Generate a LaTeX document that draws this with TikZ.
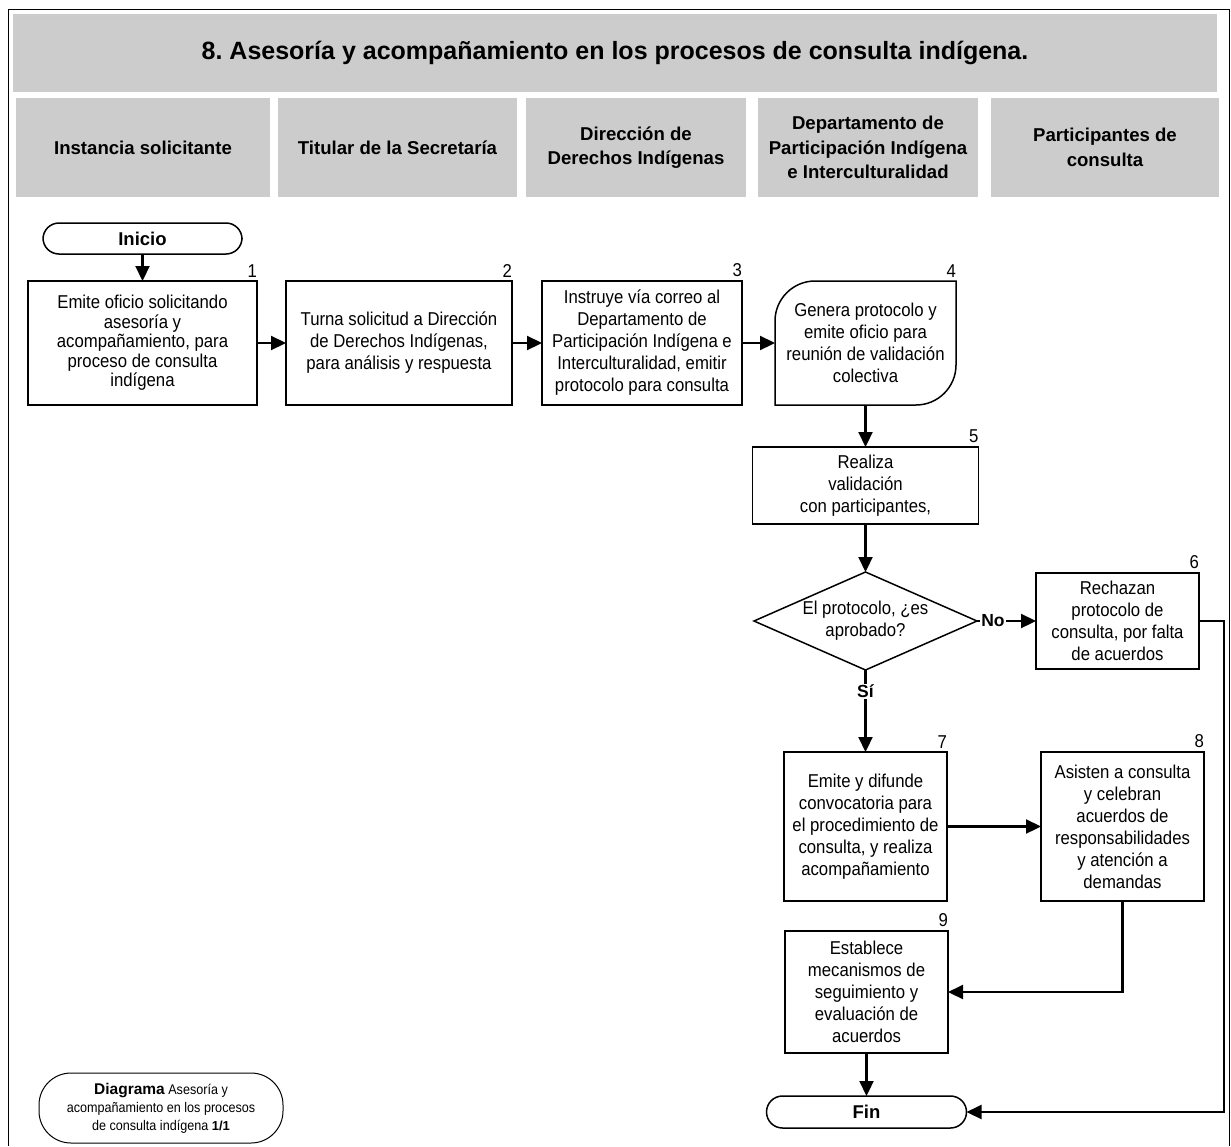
\documentclass[tikz,border=0pt]{standalone}
\usepackage{fontspec}
\setmainfont{Liberation Sans}
\newfontfamily\narrowfont{Liberation Sans}[FakeStretch=0.9]
\usetikzlibrary{arrows.meta,shapes.geometric,calc}
\frenchspacing

\definecolor{headgray}{RGB}{204,204,204}

\begin{document}
\begin{tikzpicture}[x=1pt,y=-1pt,
  every node/.style={inner sep=0pt, outer sep=0pt},
  boxtext/.style={font=\narrowfont\fontsize{18.6}{22}\selectfont, align=center},
  procbox/.style={boxtext, draw, line width=1.5pt, fill=white, rectangle},
  num/.style={font=\narrowfont\fontsize{18.6}{19}\selectfont, anchor=south east, yshift=4pt},
  lanehead/.style={fill=headgray, rectangle, font=\bfseries\fontsize{18.6}{24.5}\selectfont, align=center, minimum height=99pt},
  terminal/.style={draw, line width=1.5pt, rounded corners=16pt, rectangle, font=\bfseries\fontsize{18.5}{20}\selectfont},
  flow/.style={line width=2.2pt, -{Triangle[length=15pt,width=14pt]}},
  tag/.style={fill=white, font=\bfseries\fontsize{17.5}{19}\selectfont, inner sep=1pt}
]
\useasboundingbox (0,0) rectangle (1231,1146);

% outer frame
\draw[line width=1pt] (8,1146) -- (8,9) -- (1229,9) -- (1229,1146);

% title bar and swimlane headers
\node[fill=headgray, rectangle, minimum width=1204pt, minimum height=78pt,
      font=\bfseries\fontsize{25}{28}\selectfont] (title) at (615,53)
  {8. Asesoría y acompañamiento en los procesos de consulta indígena.};
\node[lanehead, minimum width=254pt] (lane1) at (143,147.5) {Instancia solicitante};
\node[lanehead, minimum width=239pt] (lane2) at (397.5,147.5) {Titular de la Secretaría};
\node[lanehead, minimum width=220pt] (lane3) at (636,147.5) {Dirección de\\Derechos Indígenas};
\node[lanehead, minimum width=220pt] (lane4) at (868,147.5) {Departamento de\\Participación Indígena\\e Interculturalidad};
\node[lanehead, minimum width=228pt] (lane5) at (1105,147.5) {Participantes de\\consulta};

% start terminal
\node[terminal, minimum width=199pt, minimum height=31pt] (inicio) at (142.5,238.5) {Inicio};

% process steps
\node[procbox, minimum width=229pt, minimum height=124pt, font=\narrowfont\fontsize{18.6}{19.5}\selectfont] (b1) at (142.5,343)
  {Emite oficio solicitando\\asesoría y\\acompañamiento, para\\proceso de consulta\\indígena};
\node[procbox, minimum width=226pt, minimum height=124pt] (b2) at (399,343)
  {Turna solicitud a Dirección\\de Derechos Indígenas,\\para análisis y respuesta};
\node[procbox, minimum width=200pt, minimum height=124pt] (b3) at (642,343)
  {Instruye vía correo al\\Departamento de\\Participación Indígena e\\Interculturalidad, emitir\\protocolo para consulta};

% step 4: box with rounded top-left and bottom-right corners
\draw[line width=1.5pt, fill=white] (775,405) -- (775,321)
  .. controls (775,299) and (793,281) .. (815,281) -- (956,281) -- (956,365)
  .. controls (956,387) and (938,405) .. (916,405) -- cycle;
\node[boxtext, rectangle, minimum width=181pt, minimum height=124pt] (b4) at (865.5,343)
  {Genera protocolo y\\emite oficio para\\reunión de validación\\colectiva};

\node[procbox, minimum width=226pt, minimum height=77pt] (b5) at (865.5,485.5)
  {Realiza\\validación\\con participantes,};
\node[boxtext, draw, line width=1.5pt, fill=white, diamond, aspect=2.27,
      minimum width=223pt, minimum height=98pt] (dec) at (865.5,621)
  {El protocolo, ¿es\\aprobado?};
\node[procbox, minimum width=163pt, minimum height=96pt] (b6) at (1117.5,621)
  {Rechazan\\protocolo de\\consulta, por falta\\de acuerdos};
\node[procbox, minimum width=163pt, minimum height=149pt] (b7) at (865.5,826.5)
  {Emite y difunde\\convocatoria para\\el procedimiento de\\consulta, y realiza\\acompañamiento};
\node[procbox, minimum width=163pt, minimum height=149pt] (b8) at (1122.5,826.5)
  {Asisten a consulta\\y celebran\\acuerdos de\\responsabilidades\\y atención a\\demandas};
\node[procbox, minimum width=163pt, minimum height=122pt] (b9) at (866.5,992)
  {Establece\\mecanismos de\\seguimiento y\\evaluación de\\acuerdos};

% end terminal
\node[terminal, minimum width=200pt, minimum height=32pt] (fin) at (866.5,1112) {Fin};

% step numbers
\node[num] (n1) at (b1.north east) {1};
\node[num] (n2) at (b2.north east) {2};
\node[num] (n3) at (b3.north east) {3};
\node[num] (n4) at (b4.north east) {4};
\node[num] (n5) at (b5.north east) {5};
\node[num] (n6) at (b6.north east) {6};
\node[num] (n7) at (b7.north east) {7};
\node[num] (n8) at (b8.north east) {8};
\node[num] (n9) at (b9.north east) {9};

% connectors
\draw[flow] (inicio) -- (b1);
\draw[flow] (b1) -- (b2);
\draw[flow] (b2) -- (b3);
\draw[flow] (b3) -- (b4);
\draw[flow] (b4) -- (b5);
\draw[flow] (b5) -- (dec);
\draw[flow] (dec.east) -- node[tag, pos=0.27] {No} (b6.west);
\draw[flow] (dec.south) -- node[tag, pos=0.26] {Sí} (b7.north);
\draw[flow] (b7) -- (b8);
\draw[flow] (b8.south) |- (b9.east);
\draw[flow] (b9) -- (fin);
\draw[flow] (b6.east) -- ++(25,0) |- (fin.east);

% diagram caption
\node[draw, line width=1pt, rounded corners=32pt, rectangle, minimum width=244pt, minimum height=70pt,
      align=center, font=\narrowfont\fontsize{14}{18}\selectfont] (legend) at (161,1108)
  {{\normalfont\bfseries\fontsize{15.5}{18}\selectfont Diagrama} Asesoría y\\acompañamiento en los procesos\\de consulta indígena {\normalfont\bfseries\fontsize{13}{18}\selectfont 1/1}};
\end{tikzpicture}
\end{document}
